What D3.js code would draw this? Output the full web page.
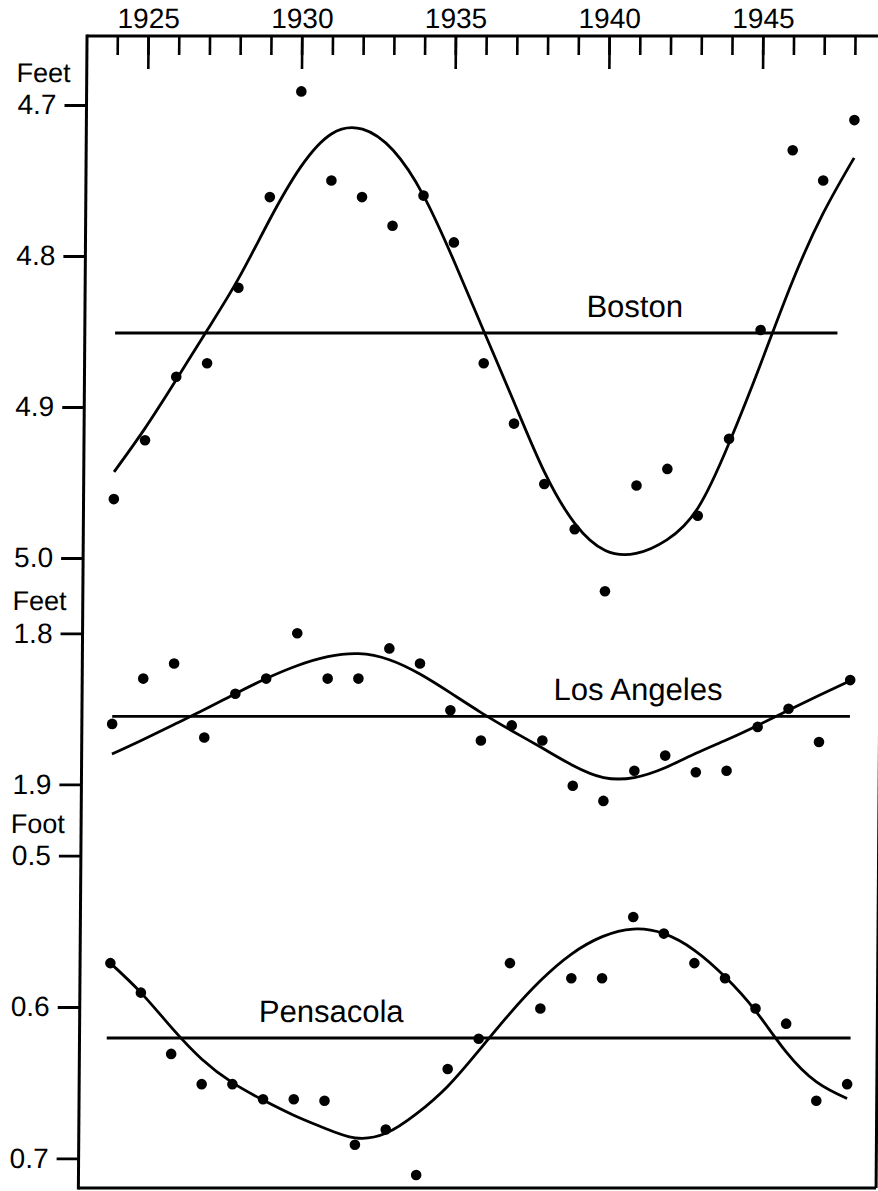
<!DOCTYPE html>
<html><head><meta charset="utf-8">
<script src="https://cdn.jsdelivr.net/npm/d3@7"></script>
<style>
html,body{margin:0;padding:0;background:#fff;}
svg{display:block;background:#fff;}
text{font-family:"Liberation Sans",Arial,Helvetica,sans-serif;fill:#000;}
</style></head><body>
<svg id="chart" width="878" height="1191"></svg>
<script>
// ---------- DATA ----------
const years = [1924,1925,1926,1927,1928,1929,1930,1931,1932,1933,1934,1935,1936,
               1937,1938,1939,1940,1941,1942,1943,1944,1945,1946,1947,1948];
const yearTicks = [1925,1930,1935,1940,1945];

const bostonObs = [4.961,4.922,4.880,4.871,4.821,4.761,4.691,4.750,4.761,4.780,4.760,4.791,4.871,
                   4.911,4.951,4.981,5.022,4.952,4.941,4.972,4.921,4.849,4.730,4.750,4.710];
const bostonFit = [4.943,4.914,4.882,4.849,4.815,4.776,4.741,4.719,4.716,4.730,4.760,4.803,4.850,
                   4.897,4.943,4.977,4.995,4.997,4.988,4.967,4.924,4.872,4.818,4.772,4.735];
const bostonMean = 4.851;
const bostonTicks = [4.7,4.8,4.9,5.0];

const laObs = [1.860,1.830,1.820,1.869,1.840,1.830,1.800,1.830,1.830,1.810,1.820,1.851,1.871,
               1.861,1.871,1.901,1.911,1.891,1.881,1.892,1.891,1.862,1.850,1.872,1.831];
const laFit = [1.880,1.8705,1.8605,1.8505,1.840,1.830,1.8215,1.8155,1.8135,1.8175,1.827,1.8395,1.8525,
               1.8645,1.876,1.8875,1.8955,1.8955,1.889,1.8795,1.8705,1.861,1.851,1.841,1.8314];
const laMean = 1.855;
const laTicks = [1.8,1.9];

const pensObs = [0.571,0.5905,0.631,0.651,0.651,0.661,0.661,0.662,0.691,0.681,0.711,0.641,0.621,
                 0.571,0.601,0.581,0.581,0.5405,0.5515,0.571,0.581,0.601,0.611,0.662,0.651];
const pensFit = [0.571,0.5905,0.6135,0.6345,0.650,0.6615,0.6715,0.680,0.6865,0.6835,0.6705,0.6525,0.629,
                 0.6045,0.5825,0.565,0.5535,0.5485,0.5515,0.5625,0.580,0.6025,0.6295,0.6495,0.6605];
const pensMean = 0.6205;
const pensTicks = [0.5,0.6,0.7];

const names = ["Boston","Los Angeles","Pensacola"];
const units = ["Feet","Feet","Foot"];
const domains = [[4.7,5.0],[1.8,1.9],[0.5,0.7]];
const meanSpans = [[1924.0,1947.5],[1924.0,1948.0],[1923.9,1948.1]];
const labelYears = [1940.9,1941.1,1931.2];

// ---------- LAYOUT ----------
const ranges = [[105,558],[633.3,784.3],[855.7,1158.3]];
const plotTop = 36, plotBottom = 1188, plotLeft = 87.3, plotRight = 885;

const panels = names.map((n,i)=>({
  name:n, unit:units[i], domain:domains[i], range:ranges[i],
  obs:[bostonObs,laObs,pensObs][i], fit:[bostonFit,laFit,pensFit][i],
  mean:[bostonMean,laMean,pensMean][i], ticks:[bostonTicks,laTicks,pensTicks][i],
  span:meanSpans[i], labelYear:labelYears[i]
}));

const svg = d3.select("#chart");
const g = svg.append("g").attr("transform","skewX(-0.43)");

const x = d3.scaleLinear().domain([1924,1948]).range([117.6,855.3]);

// frame
const frame = g.append("g").attr("stroke","#000").attr("stroke-width",3).attr("fill","none");
frame.append("line").attr("x1",plotLeft).attr("x2",plotRight+10).attr("y1",plotTop).attr("y2",plotTop);
frame.append("line").attr("x1",plotLeft).attr("x2",plotLeft).attr("y1",plotTop-1.5).attr("y2",plotBottom+1.5);
frame.append("line").attr("x1",plotLeft).attr("x2",plotRight).attr("y1",plotBottom).attr("y2",plotBottom);
frame.append("line").attr("x1",plotRight).attr("x2",plotRight).attr("y1",plotTop).attr("y2",plotBottom);

// top axis - minor ticks
const minorAx = g.append("g").attr("transform",`translate(0,${plotTop})`)
  .call(d3.axisTop(x).tickValues(years).tickSize(-19).tickFormat(""));
minorAx.select(".domain").remove();
minorAx.selectAll(".tick line").attr("stroke","#000").attr("stroke-width",2.6);

// top axis - major ticks with labels
const majorAx = g.append("g").attr("transform",`translate(0,${plotTop})`)
  .call(d3.axisTop(x).tickValues(yearTicks).tickSize(-33).tickPadding(8).tickFormat(d3.format("d")));
majorAx.select(".domain").remove();
majorAx.selectAll(".tick line").attr("stroke","#000").attr("stroke-width",2.6);
majorAx.selectAll(".tick text").attr("font-size",28).attr("font-family","Liberation Sans, Arial, sans-serif").attr("fill","#000");

panels.forEach(p=>{
  const y = d3.scaleLinear().domain(p.domain).range(p.range);

  const ax = g.append("g").attr("transform",`translate(${plotLeft},0)`)
    .call(d3.axisLeft(y).tickValues(p.ticks).tickSize(22).tickPadding(8).tickFormat(d3.format(".1f")));
  ax.select(".domain").remove();
  ax.selectAll(".tick line").attr("stroke","#000").attr("stroke-width",2.8);
  ax.selectAll(".tick text").attr("font-size",28).attr("font-family","Liberation Sans, Arial, sans-serif").attr("fill","#000");

  g.append("text").attr("x",17).attr("y",y(p.domain[0])-23)
    .attr("font-size",27).text(p.unit);

  // mean line
  g.append("path")
    .attr("d", d3.line().x(d=>x(d)).y(()=>y(p.mean))(p.span))
    .attr("fill","none").attr("stroke","#000").attr("stroke-width",2.8);

  // fitted curve
  const fitPts = years.map((yr,i)=>({yr, v:p.fit[i]}));
  g.append("path")
    .attr("d", d3.line().x(d=>x(d.yr)).y(d=>y(d.v)).curve(d3.curveNatural)(fitPts))
    .attr("fill","none").attr("stroke","#000").attr("stroke-width",2.8);

  // observations
  g.append("g").selectAll("circle").data(years.map((yr,i)=>({yr, v:p.obs[i]})))
    .join("circle").attr("cx",d=>x(d.yr)).attr("cy",d=>y(d.v)).attr("r",5.3).attr("fill","#000");

  // label
  g.append("text").attr("x",x(p.labelYear)).attr("y",y(p.mean)-16)
    .attr("text-anchor","middle").attr("font-size",31).text(p.name);
});
</script>
</body></html>
